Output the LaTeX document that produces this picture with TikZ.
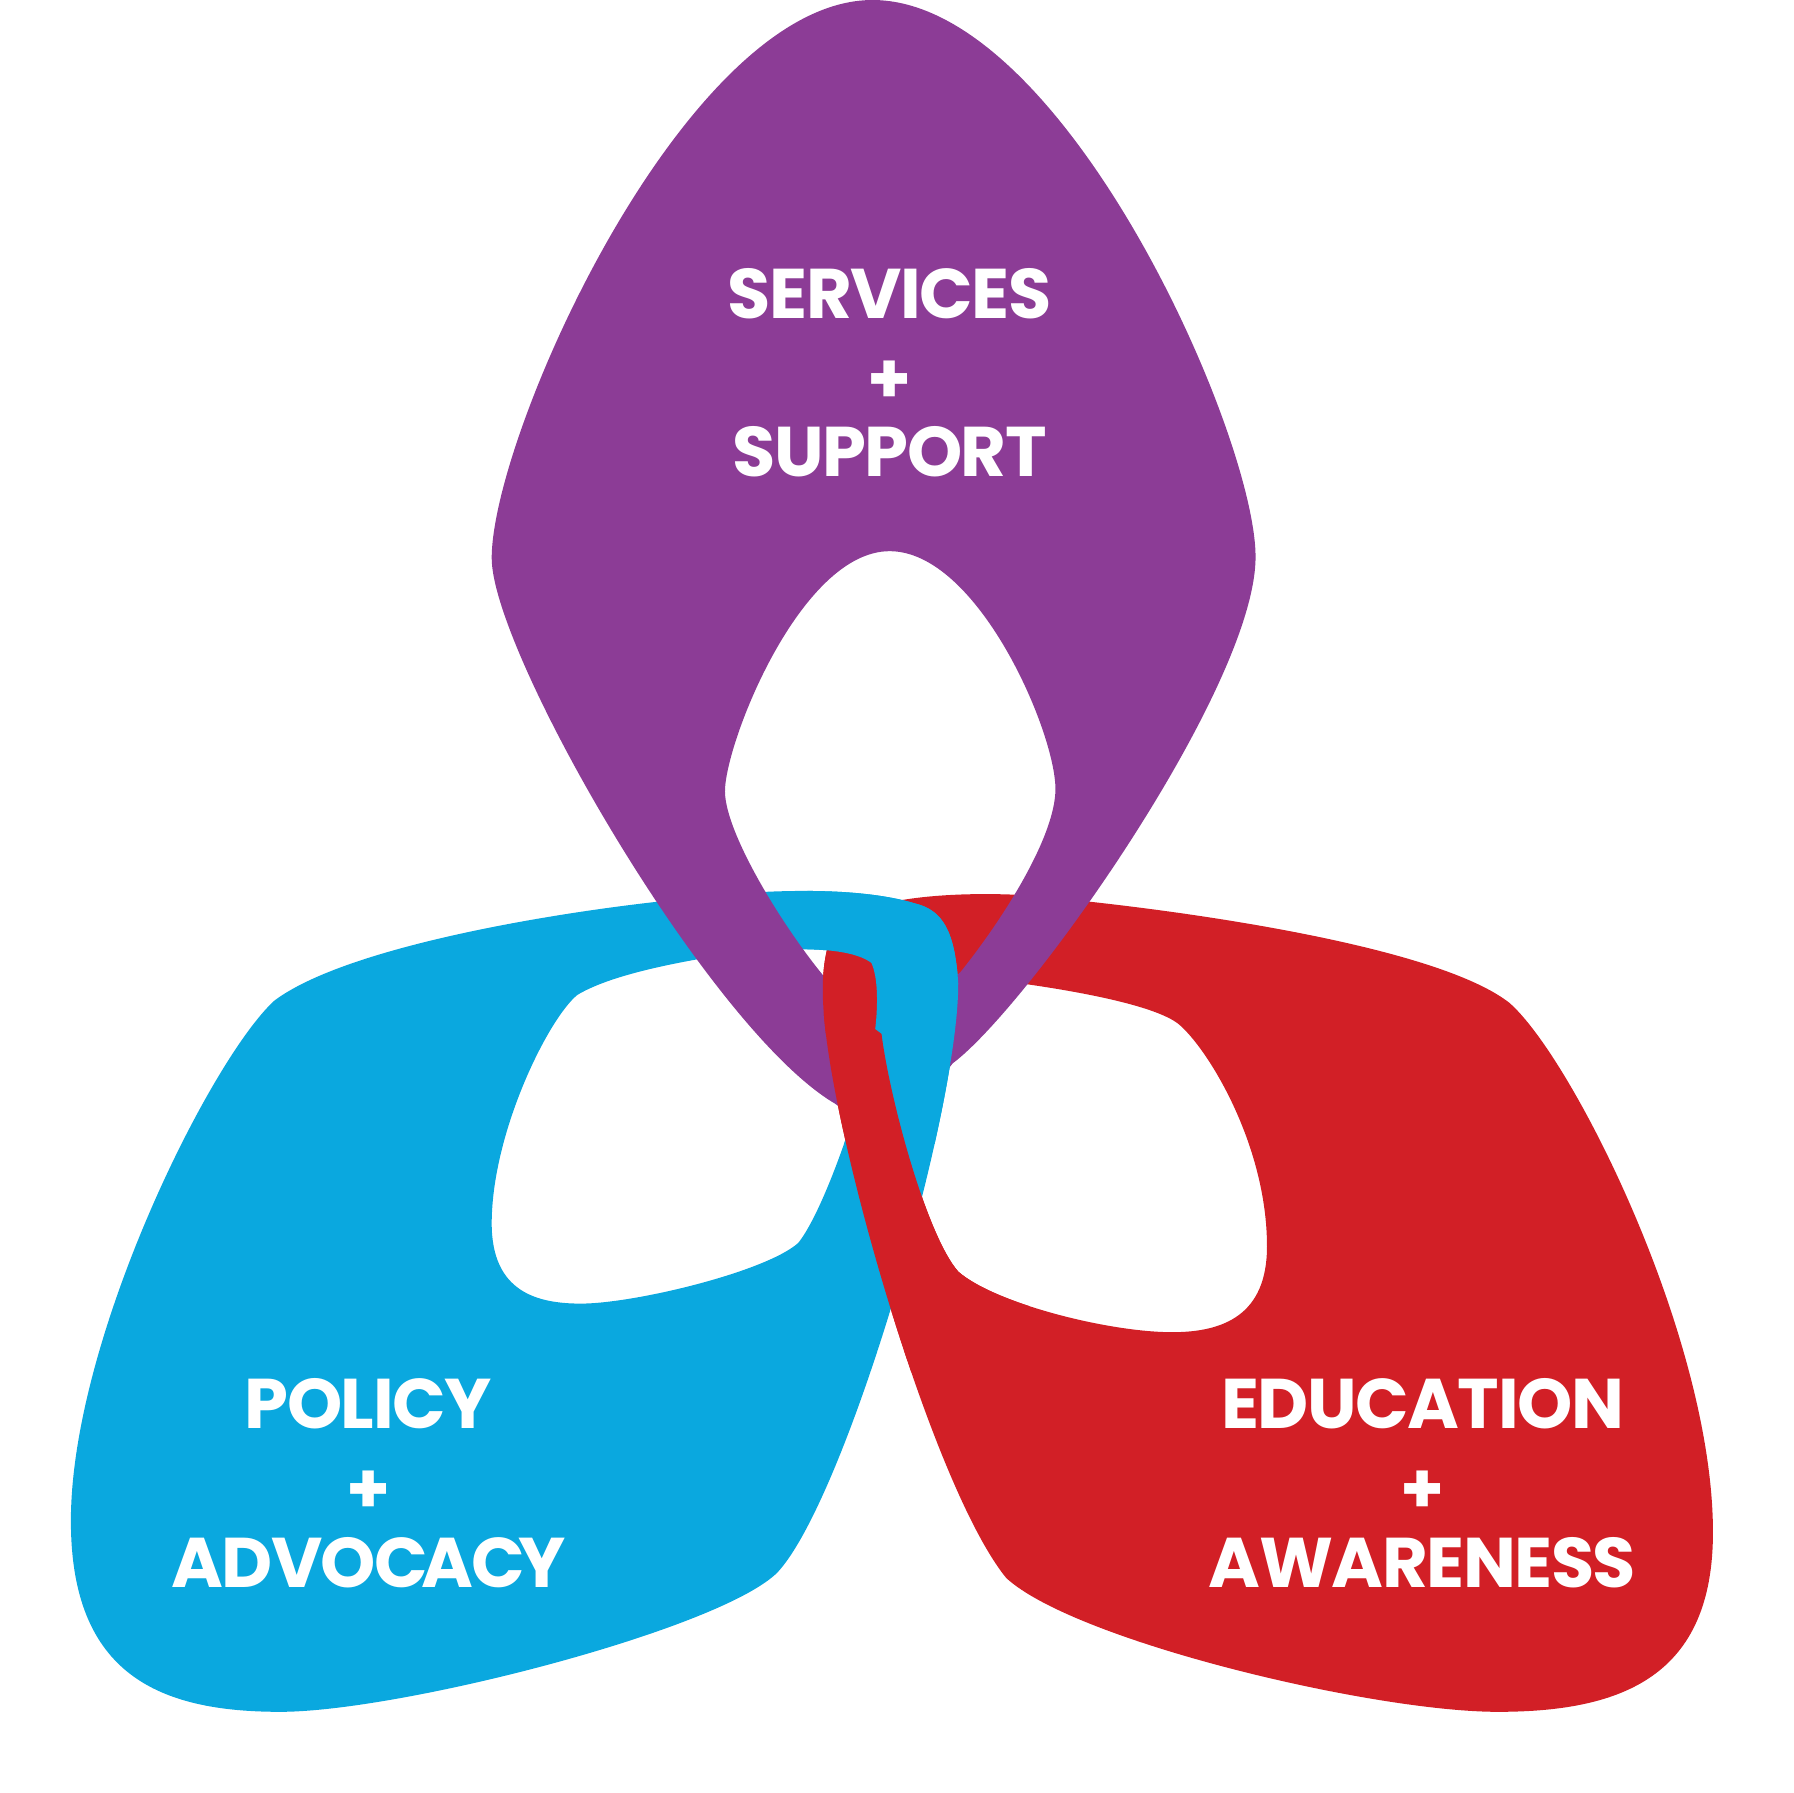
\documentclass[tikz,border=0pt]{standalone}
\usepackage{fontspec}
\setmainfont{Poppins}[LetterSpace=-2.1]
\definecolor{ring_purple}{HTML}{8C3C96}
\definecolor{ring_blue}{HTML}{0AA8DF}
\definecolor{ring_red}{HTML}{D21F26}
\tikzset{
        % Ring bands
        ring/.style={even odd rule},
        % White block of text on a band
        node_label/.style={align=center, inner sep=0pt, text=white, font=\fontsize{20}{22.5}\selectfont\bfseries}
}
\newcommand{\plussign}{\raisebox{-1.6pt}{+}}
% Band outlines, outer edge then hole
\newcommand{\ringblue}{
    (240,875) .. controls (300,830) and (470,800) .. (580,788)
    .. controls (640,780) and (740,772) .. (800,790)
    .. controls (825,796) and (835,815) .. (838,860)
    .. controls (838,975) and (740,1310) .. (680,1375)
    .. controls (630,1425) and (350,1497) .. (245,1497)
    .. controls (140,1497) and (62,1465) .. (62,1330)
    .. controls (62,1170) and (185,925) .. (240,875) -- cycle
    (505,870) .. controls (530,855) and (575,845) .. (615,838)
    .. controls (650,832) and (735,822) .. (762,842)
    .. controls (768,855) and (768,880) .. (765,903)
    .. controls (755,960) and (720,1060) .. (698,1087)
    .. controls (670,1112) and (555,1140) .. (508,1140)
    .. controls (470,1140) and (430,1130) .. (430,1070)
    .. controls (430,990) and (480,890) .. (505,870) -- cycle
}
\newcommand{\ringred}{
    (1320,877) .. controls (1260,830) and (1060,800) .. (948,788)
    .. controls (900,780) and (780,775) .. (735,805)
    .. controls (722,820) and (718,850) .. (720,880)
    .. controls (726,990) and (815,1300) .. (880,1380)
    .. controls (940,1435) and (1200,1497) .. (1310,1497)
    .. controls (1420,1497) and (1498,1465) .. (1498,1340)
    .. controls (1498,1170) and (1375,925) .. (1320,877) -- cycle
    (1030,895) .. controls (1010,880) and (950,868) .. (893,860)
    .. controls (850,853) and (785,845) .. (772,862)
    .. controls (768,875) and (768,890) .. (771,905)
    .. controls (778,960) and (810,1080) .. (838,1112)
    .. controls (870,1140) and (970,1165) .. (1025,1165)
    .. controls (1070,1165) and (1108,1150) .. (1108,1090)
    .. controls (1108,1000) and (1055,915) .. (1030,895) -- cycle
}
\newcommand{\ringpurple}{
    (763,0) .. controls (600,0) and (430,380) .. (430,488)
    .. controls (430,570) and (620,900) .. (730,965)
    -- (780,1000) -- (833,930)
    .. controls (900,880) and (1098,600) .. (1098,487)
    .. controls (1098,380) and (930,0) .. (763,0) -- cycle
    (778,482) .. controls (700,482) and (634,650) .. (634,692)
    .. controls (634,730) and (690,820) .. (730,865)
    -- (780,905) -- (840,850)
    .. controls (880,800) and (923,730) .. (923,690)
    .. controls (923,640) and (855,482) .. (778,482) -- cycle
}
\begin{document}
\begin{tikzpicture}[x=0.011435cm, y=-0.011435cm]
    \useasboundingbox (0,0) rectangle (1568,1568);
    % Bottom layers
    \fill[ring, ring_red] \ringred;
    \fill[ring, ring_blue] \ringblue;
    \fill[ring, ring_purple] \ringpurple;
    % Weave in the centre
    \begin{scope}
        \clip (700,815) rectangle (775,904);
        \fill[ring, ring_red] \ringred;
    \end{scope}
    \begin{scope}
        \clip (706,770) rectangle (860,1000);
        \fill[ring, ring_blue] \ringblue;
    \end{scope}
    \begin{scope}
        \clip (700,880) -- (764,899) -- (772,905) -- (900,905) -- (900,1200) -- (700,1200) -- cycle;
        \fill[ring, ring_red] \ringred;
    \end{scope}
    % Labels
    \node[node_label] (services) at (778,326) {SERVICES\\\plussign\\SUPPORT};
    \node[node_label] (policy) at (322,1297) {POLICY\\\plussign\\ADVOC\kern-2pt AC\kern-2pt Y};
    \node[node_label] (education) at (1244,1297) {EDUCATION\\\plussign\\AWARENESS};
\end{tikzpicture}
\end{document}
